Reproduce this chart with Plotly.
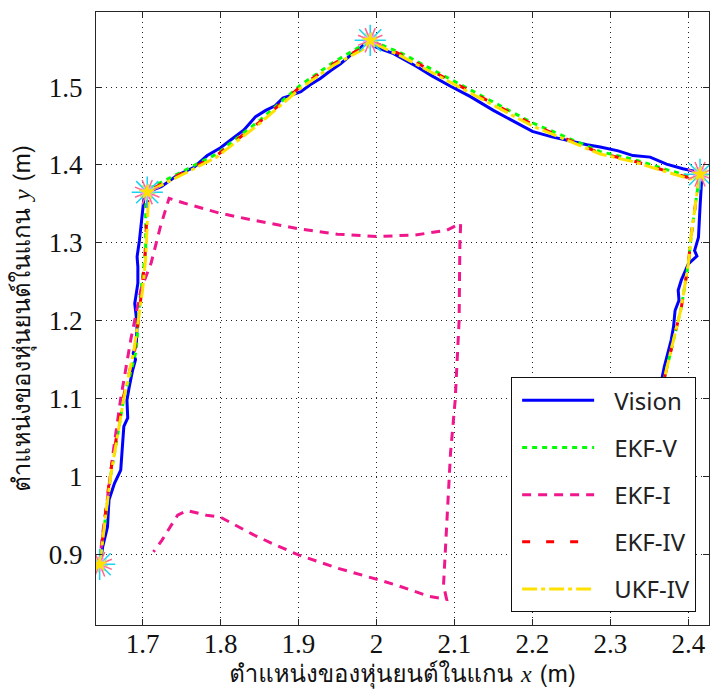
import plotly.graph_objects as go

# ---------------- data ----------------
vision_x = [1.644, 1.647, 1.649, 1.655, 1.657, 1.664, 1.672, 1.674, 1.676, 1.681, 1.680, 1.683, 1.687,
            1.691, 1.688, 1.692, 1.693, 1.690, 1.694, 1.694, 1.693, 1.696, 1.698, 1.700, 1.702, 1.706,
            1.724, 1.745, 1.766, 1.783, 1.800, 1.813, 1.830, 1.845, 1.858, 1.870, 1.880, 1.892, 1.903,
            1.915, 1.928, 1.941, 1.954, 1.967, 1.979, 1.988, 1.995, 2.005, 2.022, 2.052, 2.070, 2.095,
            2.120, 2.150, 2.175, 2.200, 2.225, 2.250, 2.270, 2.287, 2.310, 2.329, 2.351, 2.372, 2.393,
            2.411, 2.417, 2.415, 2.413, 2.408, 2.411, 2.400, 2.391, 2.387, 2.388, 2.383, 2.381, 2.378,
            2.372, 2.369, 2.366]
vision_y = [0.887, 0.897, 0.910, 0.935, 0.970, 0.991, 1.008, 1.034, 1.064, 1.075, 1.098, 1.115, 1.135,
            1.150, 1.158, 1.170, 1.196, 1.222, 1.248, 1.269, 1.282, 1.303, 1.325, 1.346, 1.359, 1.365,
            1.372, 1.387, 1.397, 1.412, 1.422, 1.432, 1.445, 1.462, 1.470, 1.476, 1.486, 1.490, 1.494,
            1.503, 1.511, 1.521, 1.530, 1.541, 1.550, 1.558, 1.553, 1.549, 1.543, 1.526, 1.515, 1.501,
            1.488, 1.470, 1.456, 1.443, 1.436, 1.430, 1.426, 1.423, 1.418, 1.412, 1.410, 1.401, 1.395,
            1.391, 1.380, 1.346, 1.307, 1.290, 1.283, 1.273, 1.252, 1.239, 1.226, 1.213, 1.192, 1.175,
            1.153, 1.140, 1.125]

ekfv_x = [1.645, 1.659, 1.676, 1.692, 1.696, 1.700, 1.704, 1.704, 1.707, 1.750, 1.795, 1.850, 1.902,
          1.945, 1.993, 2.033, 2.095, 2.200, 2.287, 2.330, 2.372, 2.402, 2.415, 2.411, 2.404, 2.400,
          2.391, 2.383, 2.372, 2.369]
ekfv_y = [0.887, 1.000, 1.100, 1.162, 1.222, 1.256, 1.290, 1.344, 1.369, 1.391, 1.414, 1.457, 1.502,
          1.532, 1.560, 1.543, 1.510, 1.454, 1.417, 1.407, 1.394, 1.385, 1.387, 1.363, 1.312, 1.273,
          1.217, 1.183, 1.140, 1.125]

ekfi_x = [1.645, 1.648, 1.655, 1.663, 1.672, 1.685, 1.698, 1.711, 1.723, 1.734, 1.753, 1.799, 1.842,
          1.900, 1.950, 2.000, 2.050, 2.090, 2.108, 2.107, 2.106, 2.101, 2.095, 2.089, 2.086, 2.090,
          2.067, 2.029, 2.003, 1.950, 1.900, 1.870, 1.842, 1.799, 1.782, 1.757, 1.745, 1.733, 1.725,
          1.714]
ekfi_y = [0.887, 0.920, 0.972, 1.036, 1.100, 1.176, 1.240, 1.274, 1.321, 1.357, 1.351, 1.338, 1.329,
          1.318, 1.311, 1.308, 1.310, 1.316, 1.325, 1.299, 1.200, 1.098, 1.030, 0.927, 0.860, 0.842,
          0.846, 0.859, 0.867, 0.882, 0.899, 0.912, 0.925, 0.948, 0.950, 0.956, 0.950, 0.931, 0.918,
          0.903]

ekfiv_x = [1.645, 1.658, 1.675, 1.690, 1.699, 1.703, 1.706, 1.708, 1.750, 1.795, 1.850, 1.902, 1.945,
           1.996, 2.033, 2.095, 2.200, 2.287, 2.330, 2.372, 2.402, 2.415, 2.411, 2.404, 2.400, 2.391,
           2.383, 2.372, 2.369]
ekfiv_y = [0.887, 1.000, 1.100, 1.162, 1.239, 1.280, 1.346, 1.367, 1.389, 1.412, 1.455, 1.500, 1.530,
           1.558, 1.541, 1.508, 1.452, 1.415, 1.405, 1.392, 1.383, 1.385, 1.363, 1.312, 1.273, 1.217,
           1.183, 1.140, 1.125]

ukfiv_x = [1.645, 1.659, 1.676, 1.689, 1.700, 1.704, 1.707, 1.708, 1.750, 1.795, 1.850, 1.902, 1.945,
           1.997, 2.033, 2.095, 2.200, 2.287, 2.330, 2.372, 2.402, 2.415, 2.411, 2.404, 2.400, 2.391,
           2.383, 2.372, 2.369]
ukfiv_y = [0.887, 1.000, 1.100, 1.162, 1.239, 1.280, 1.346, 1.366, 1.387, 1.410, 1.453, 1.498, 1.528,
           1.556, 1.539, 1.506, 1.450, 1.414, 1.404, 1.391, 1.382, 1.384, 1.363, 1.312, 1.273, 1.217,
           1.183, 1.140, 1.125]

# points where the robot stops and turns (spiky bursts)
corner_x = [1.645, 1.706, 1.992, 2.415]
corner_y = [0.887, 1.365, 1.560, 1.388]

series_names = ["Vision", "EKF-V", "EKF-I", "EKF-IV", "UKF-IV"]
x_ticks = [1.7, 1.8, 1.9, 2.0, 2.1, 2.2, 2.3, 2.4]
x_tick_labels = ["1.7", "1.8", "1.9", "2", "2.1", "2.2", "2.3", "2.4"]
y_ticks = [0.9, 1.0, 1.1, 1.2, 1.3, 1.4, 1.5]
y_tick_labels = ["0.9", "1", "1.1", "1.2", "1.3", "1.4", "1.5"]

x_title = "ตำแหน่งของหุ่นยนต์ในแกน <i><span style='font-family:Liberation Serif'>x</span></i> (m)"
y_title = "ตำแหน่งของหุ่นยนต์ในแกน <i><span style='font-family:Liberation Serif'>y</span></i> (m)"

# ---------------- figure ----------------
THAI = "Loma, Garuda, Noto Sans Thai, Noto Sans, sans-serif"
SERIF = "Liberation Serif"

fig = go.Figure()

fig.add_trace(go.Scatter(x=vision_x, y=vision_y, mode="lines", name=series_names[0],
                         line=dict(color="#0000FF", width=3), legendgroup="a"))
fig.add_trace(go.Scatter(x=ekfv_x, y=ekfv_y, mode="lines", name=series_names[1],
                         line=dict(color="#00FF00", width=3, dash="5px,5px"), legendgroup="b"))
fig.add_trace(go.Scatter(x=ekfi_x, y=ekfi_y, mode="lines", name=series_names[2],
                         line=dict(color="#F0168C", width=3, dash="9px,7px"), legendgroup="c"))
fig.add_trace(go.Scatter(x=ekfiv_x, y=ekfiv_y, mode="lines", name=series_names[3],
                         line=dict(color="#FF0000", width=3, dash="8px,16px"), legendgroup="d"))
fig.add_trace(go.Scatter(x=ukfiv_x, y=ukfiv_y, mode="lines", name=series_names[4],
                         line=dict(color="#FFE100", width=3, dash="15px,4px,4px,4px"), legendgroup="e"))

# spiky bursts at the turning points
for color, size, ang in [("#0000FF", 26, 0), ("#0000FF", 22, 22.5), ("#00CC00", 14, 10),
                         ("#FF0000", 12, 35)]:
    fig.add_trace(go.Scatter(x=corner_x, y=corner_y, mode="markers", showlegend=False, hoverinfo="skip",
                             marker=dict(symbol="asterisk-open", size=size, angle=ang,
                                         line=dict(color=color, width=1.5))))
fig.add_trace(go.Scatter(x=corner_x, y=corner_y, mode="markers", showlegend=False, hoverinfo="skip",
                         marker=dict(symbol="star", size=12, color="#FFE100", line=dict(width=0))))

axis_common = dict(
    showline=True, linecolor="#262626", linewidth=1, mirror="ticks",
    ticks="inside", ticklen=6, tickcolor="#262626", tickwidth=1,
    showgrid=True, gridcolor="#222222", gridwidth=1, griddash="1px,4px",
    zeroline=False, tickfont=dict(family=SERIF, size=27, color="#111111"),
)

fig.update_xaxes(range=[1.6403, 2.4265], tickvals=x_ticks, ticktext=x_tick_labels,
                 title=dict(text=x_title, font=dict(family=THAI, size=24, color="#111111"), standoff=15),
                 ticklabelstandoff=-5, **axis_common)
fig.update_yaxes(range=[0.809, 1.5964], tickvals=y_ticks, ticktext=y_tick_labels,
                 title=dict(text=y_title, font=dict(family=THAI, size=24, color="#111111"), standoff=11),
                 ticklabelstandoff=7, **axis_common)

fig.update_layout(
    width=710, height=693,
    margin=dict(l=96, r=1, t=12, b=68, autoexpand=False),
    paper_bgcolor="white", plot_bgcolor="white",
    legend=dict(x=0.979, y=0.021, xanchor="right", yanchor="bottom",
                bgcolor="white", bordercolor="#111111", borderwidth=1,
                font=dict(family="Noto Sans", size=24, color="#222222"),
                itemwidth=92, tracegroupgap=13),
    showlegend=True,
)

# lengthen the legend line samples to match the reference's long samples
post = """
var gd = document.getElementById('{plot_id}');
function fixLegend(){
  var paths = gd.querySelectorAll('.legend .legendlines path');
  paths.forEach(function(p){ p.setAttribute('d', 'M10,0h72'); });
}
fixLegend();
gd.on('plotly_afterplot', fixLegend);
"""

fig.write_html("out.html", post_script=post)
